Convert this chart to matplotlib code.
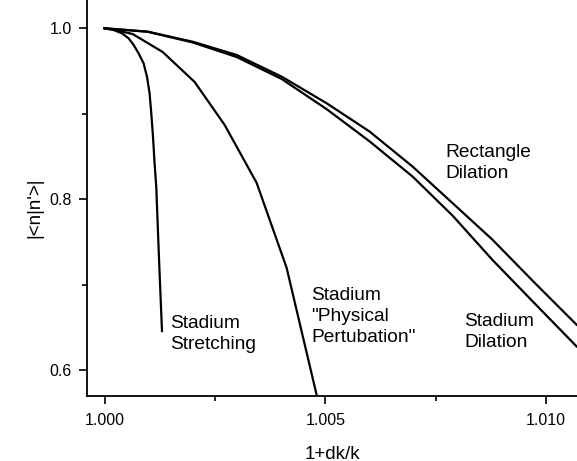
import matplotlib
matplotlib.use("Agg")
import matplotlib.pyplot as plt
from matplotlib.ticker import MultipleLocator, FixedFormatter, FixedLocator

plt.rcParams['font.family'] = ['Liberation Sans', 'DejaVu Sans']

# Data
stretch_x = [1.0, 1.000204, 1.000394, 1.000543, 1.000657, 1.000770, 1.000883, 1.000960,
             1.001019, 1.001057, 1.001096, 1.001132, 1.001170, 1.001238, 1.001300]
stretch_y = [1.0, 0.9980, 0.9941, 0.9883, 0.9805, 0.9707, 0.9590, 0.9434,
             0.9239, 0.9005, 0.8731, 0.8420, 0.8146, 0.7229, 0.6456]

phys_x = [1.0, 1.000280, 1.000634, 1.001314, 1.002039, 1.002719, 1.003444, 1.004123, 1.00483]
phys_y = [1.0, 0.9975, 0.9933, 0.9723, 0.9372, 0.8869, 0.8191, 0.7197, 0.565]

rect_x = [1.0, 1.000974, 1.001994, 1.002990, 1.004010, 1.005029, 1.006004, 1.006978, 1.007884, 1.008790, 1.009742, 1.010693]
rect_y = [1.0, 0.9960, 0.9843, 0.9688, 0.9434, 0.9123, 0.8791, 0.8381, 0.7953, 0.7524, 0.7021, 0.6530]

sdil_x = [1.0, 1.000974, 1.001994, 1.002990, 1.004010, 1.005029, 1.006004, 1.006978, 1.007884, 1.008790, 1.009742, 1.010693]
sdil_y = [1.0, 0.9960, 0.9834, 0.9664, 0.9407, 0.9054, 0.8676, 0.8264, 0.7807, 0.7287, 0.6780, 0.6276]

x_ticks = [1.000, 1.005, 1.010]
x_ticklabels = ["1.000", "1.005", "1.010"]
y_ticks = [0.6, 0.8, 1.0]
y_ticklabels = ["0.6", "0.8", "1.0"]

fig = plt.figure(figsize=(5.77, 4.61), dpi=100)
ax = fig.add_axes([87/577, 65/461, 1 - 87/577, 1 - 65/461])

lw = 1.6
for xs, ys in [(stretch_x, stretch_y), (phys_x, phys_y), (rect_x, rect_y), (sdil_x, sdil_y)]:
    ax.plot(xs, ys, color='black', lw=lw, solid_joinstyle='round')

ax.set_xlim(0.999601, 1.010702)
ax.set_ylim(0.5696, 1.0331)

ax.xaxis.set_major_locator(FixedLocator(x_ticks))
ax.xaxis.set_major_formatter(FixedFormatter(x_ticklabels))
ax.yaxis.set_major_locator(FixedLocator(y_ticks))
ax.yaxis.set_major_formatter(FixedFormatter(y_ticklabels))
ax.xaxis.set_minor_locator(MultipleLocator(0.0025))
ax.yaxis.set_minor_locator(MultipleLocator(0.1))

for side in ['top', 'right']:
    ax.spines[side].set_visible(False)
for side in ['left', 'bottom']:
    ax.spines[side].set_linewidth(1.3)

ax.tick_params(which='major', direction='out', length=6, width=1.2, labelsize=11.5, pad=5)
ax.tick_params(which='minor', direction='out', length=3.5, width=1.2)
ax.tick_params(axis='x', which='major', pad=6)

ax.set_xlabel("1+dk/k", fontsize=13.5)
ax.set_ylabel("|<n|n'>|", fontsize=13.5)
ax.xaxis.set_label_coords(0.5, -0.125)
ax.yaxis.set_label_coords(-0.09, 0.475)

fs = 13.8
def label(px, py, s):
    x, y = fig.transFigure.inverted().transform((px, 461 - py))
    fig.text(x, y, s, fontsize=fs, ha='left', va='top', linespacing=1.3)

label(170, 315, "Stadium\nStretching")
label(311, 287, "Stadium\n\"Physical\nPertubation\"")
label(464, 313, "Stadium\nDilation")
label(445, 144, "Rectangle\nDilation")

fig.savefig("out.png", dpi=100)
